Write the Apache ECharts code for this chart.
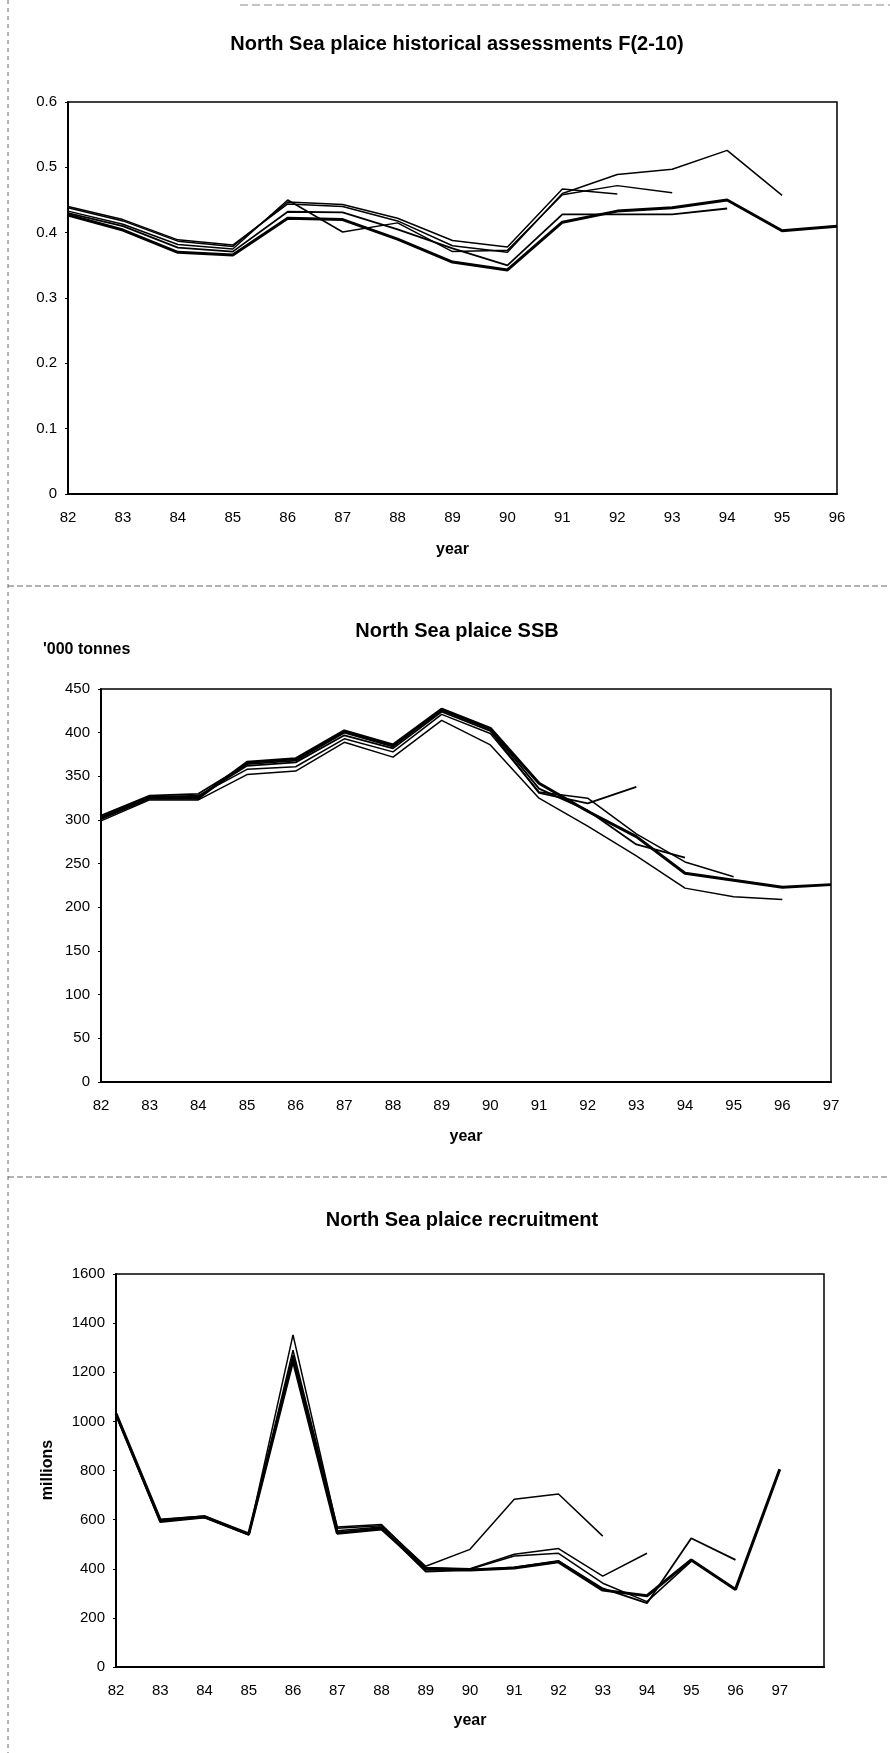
<!DOCTYPE html>
<html>
<head>
<meta charset="utf-8">
<script src="https://cdn.jsdelivr.net/npm/echarts@6/dist/echarts.min.js"></script>
<style>
html,body{margin:0;padding:0;background:#fff;}
#c{width:890px;height:1753px;}
</style>
</head>
<body>
<div id="c"></div>
<script>
// ---------- data ----------
// Chart 1: F(2-10), historical assessments; years 82..96
const fYears = [82,83,84,85,86,87,88,89,90,91,92,93,94,95,96];
const fA = [0.438,0.418,0.387,0.379,0.447,0.443,0.422,0.388,0.378,0.467,0.459];
const fB = [0.433,0.413,0.382,0.375,0.450,0.401,0.415,0.371,0.373,0.458,0.472,0.461];
const fC = [0.430,0.410,0.377,0.371,0.432,0.431,0.405,0.376,0.350,0.428,0.428,0.428,0.437];
const fD = [0.440,0.420,0.389,0.381,0.444,0.440,0.418,0.380,0.370,0.460,0.489,0.497,0.526,0.457];
const fE = [0.427,0.404,0.370,0.366,0.422,0.420,0.390,0.355,0.343,0.416,0.433,0.438,0.450,0.403,0.410];

// Chart 2: SSB ('000 tonnes); years 82..97
const ssbYears = [82,83,84,85,86,87,88,89,90,91,92,93,94,95,96,97];
const ssbP = [303,327,327,362,366,397,382,424,402,331,319,338];
const ssbQ = [305,328,330,364,368,400,384,426,404,336,311,272,257];
const ssbR = [301,326,328,358,361,393,378,421,399,332,325,284,252,235];
const ssbS = [299,323,323,352,356,389,372,414,386,325,293,259,222,212,209];
const ssbT = [302,325,325,366,370,402,386,427,405,342,310,281,239,231,223,226];

// Chart 3: recruitment (millions); years 82..97
const recYears = [82,83,84,85,86,87,88,89,90,91,92,93,94,95,96,97];
const recA = [1030,595,612,540,1352,565,575,410,479,683,704,533];
const recB = [1030,600,615,540,1290,570,580,405,400,459,482,370,463];
const recC = [1028,593,610,538,1270,555,570,395,398,452,463,341,266,430];
const recD = [1025,590,608,538,1260,548,565,388,395,406,432,320,260,524,436];
const recE = [1032,598,612,542,1250,545,562,400,395,403,428,313,290,436,316,805];

// tick labels
const fXTicks = fYears;
const ssbXTicks = ssbYears;
const recXTicks = recYears;

// ---------- chart ----------
const FONT = 'Liberation Sans, Arial, sans-serif';
const pairs = (yrs, vals) => vals.map((v, i) => [yrs[i], v]);

function mkSeries(idx, yrs, vals, width) {
  return {
    type: 'line', xAxisIndex: idx, yAxisIndex: idx,
    data: pairs(yrs, vals), symbol: 'none', silent: true,
    lineStyle: { color: '#000', width: width },
    animation: false
  };
}

function xAxis(idx, min, max, ticks, gap) {
  return {
    type: 'value', gridIndex: idx, min: min, max: max, interval: 1,
    name: 'year', nameLocation: 'middle', nameGap: gap,
    nameTextStyle: { fontFamily: FONT, fontWeight: 'bold', fontSize: 16, color: '#000' },
    axisLine: { show: true, lineStyle: { color: '#000', width: 2 } },
    axisTick: { show: false },
    splitLine: { show: false },
    axisLabel: {
      fontFamily: FONT, fontSize: 15, color: '#000', margin: 16,
      formatter: v => (ticks.indexOf(v) >= 0 ? String(v) : '')
    }
  };
}

function yAxis(idx, min, max, interval, fmt) {
  return {
    type: 'value', gridIndex: idx, min: min, max: max, interval: interval,
    axisLine: { show: true, lineStyle: { color: '#000', width: 2 } },
    axisTick: { show: true, inside: false, length: 3, lineStyle: { color: '#000' } },
    splitLine: { show: false },
    axisLabel: { fontFamily: FONT, fontSize: 15, color: '#000', margin: 11, formatter: fmt }
  };
}

const gridStyle = { show: true, borderColor: '#000', borderWidth: 1.5, backgroundColor: 'transparent' };

const chart = echarts.init(document.getElementById('c'), null, { renderer: 'canvas' });
chart.setOption({
  animation: false,
  backgroundColor: '#fff',
  title: [
    { text: 'North Sea plaice historical assessments F(2-10)', left: 452, top: 29, textAlign: 'center',
      textStyle: { fontFamily: FONT, fontWeight: 'bold', fontSize: 20, color: '#000' } },
    { text: 'North Sea plaice SSB', left: 452, top: 616, textAlign: 'center',
      textStyle: { fontFamily: FONT, fontWeight: 'bold', fontSize: 20, color: '#000' } },
    { text: "'000 tonnes", left: 38, top: 637,
      textStyle: { fontFamily: FONT, fontWeight: 'bold', fontSize: 16, color: '#000' } },
    { text: 'North Sea plaice recruitment', left: 457, top: 1205, textAlign: 'center',
      textStyle: { fontFamily: FONT, fontWeight: 'bold', fontSize: 20, color: '#000' } }
  ],
  grid: [
    Object.assign({ left: 68, top: 102, width: 769, height: 392 }, gridStyle),
    Object.assign({ left: 101, top: 689, width: 730, height: 393 }, gridStyle),
    Object.assign({ left: 116, top: 1274, width: 708, height: 393 }, gridStyle)
  ],
  xAxis: [
    xAxis(0, 82, 96, fXTicks, 48),
    xAxis(1, 82, 97, ssbXTicks, 47),
    xAxis(2, 82, 98, recXTicks, 46)
  ],
  yAxis: [
    yAxis(0, 0, 0.6, 0.1, v => (v === 0 ? '0' : v.toFixed(1))),
    yAxis(1, 0, 450, 50, v => String(v)),
    yAxis(2, 0, 1600, 200, v => String(v))
  ],
  graphic: [
    { type: 'text', x: 48, y: 1470, rotation: Math.PI / 2,
      style: { text: 'millions', font: 'bold 16px ' + FONT, fill: '#000', align: 'center', verticalAlign: 'middle' } },
    { type: 'line', shape: { x1: 8, y1: 0, x2: 8, y2: 1753 }, style: { stroke: '#666', lineWidth: 1, lineDash: [4, 4] } },
    { type: 'line', shape: { x1: 8, y1: 586, x2: 890, y2: 586 }, style: { stroke: '#666', lineWidth: 1, lineDash: [6, 3] } },
    { type: 'line', shape: { x1: 8, y1: 1177, x2: 890, y2: 1177 }, style: { stroke: '#666', lineWidth: 1, lineDash: [6, 3] } },
    { type: 'line', shape: { x1: 240, y1: 5, x2: 890, y2: 5 }, style: { stroke: '#888', lineWidth: 1, lineDash: [8, 4] } }
  ],
  series: [
    mkSeries(0, fYears, fA, 1.5),
    mkSeries(0, fYears, fB, 1.5),
    mkSeries(0, fYears, fC, 1.8),
    mkSeries(0, fYears, fD, 1.5),
    mkSeries(0, fYears, fE, 3),
    mkSeries(1, ssbYears, ssbP, 1.8),
    mkSeries(1, ssbYears, ssbQ, 1.8),
    mkSeries(1, ssbYears, ssbR, 1.5),
    mkSeries(1, ssbYears, ssbS, 1.5),
    mkSeries(1, ssbYears, ssbT, 3),
    mkSeries(2, recYears, recA, 1.5),
    mkSeries(2, recYears, recB, 1.5),
    mkSeries(2, recYears, recC, 1.5),
    mkSeries(2, recYears, recD, 1.8),
    mkSeries(2, recYears, recE, 3)
  ]
});
</script>
</body>
</html>
